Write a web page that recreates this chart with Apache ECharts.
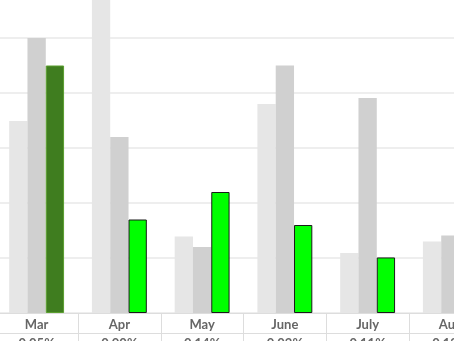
<!DOCTYPE html>
<html>
<head>
<meta charset="utf-8">
<script src="https://cdn.jsdelivr.net/npm/echarts@6/dist/echarts.min.js"></script>
<style>
html,body{margin:0;padding:0;background:#fff;}
#c{width:454px;height:341px;}
</style>
</head>
<body>
<div id="c"></div>
<script>
var categories = ['Mar', 'Apr', 'May', 'June', 'July', 'Aug'];
var pctLabels = ['0.05%', '0.00%', '0.14%', '0.02%', '0.11%', '0.12%'];
var lightSeries = [3.49, 6.3, 1.39, 3.8, 1.09, 1.30];
var midSeries = [5.0, 3.2, 1.2, 4.5, 3.91, 1.41];
var greenSeries = [4.5, 1.70, 2.2, 1.6, 1.01, null];

var greenData = greenSeries.map(function (v, i) {
  if (i === 0) {
    return { value: v, itemStyle: { color: '#3f7d1f', borderColor: '#5a9e2e', borderWidth: 1 } };
  }
  return v;
});

var chart = echarts.init(document.getElementById('c'), null, { renderer: 'canvas' });
chart.setOption({
  animation: false,
  grid: { left: -4.75, width: 496.5, top: -72, bottom: 28, containLabel: false, outerBoundsMode: 'none' },
  xAxis: [
    {
      type: 'category',
      data: categories,
      position: 'bottom',
      axisLine: { show: true, lineStyle: { color: '#dddddd', width: 1 } },
      axisTick: { show: true, length: 30, alignWithLabel: false, lineStyle: { color: '#dddddd', width: 1 } },
      axisLabel: { margin: 5, color: '#666666', fontWeight: 'bold', fontSize: 13, fontFamily: 'Lato', hideOverlap: false },
      splitLine: { show: false }
    },
    {
      type: 'category',
      data: pctLabels,
      position: 'bottom',
      offset: 20,
      axisLine: { show: true, lineStyle: { color: '#dddddd', width: 1 } },
      axisTick: { show: false },
      axisLabel: { margin: 4, color: '#666666', fontWeight: 'bold', fontSize: 13, fontFamily: 'Lato' },
      splitLine: { show: false }
    }
  ],
  yAxis: {
    type: 'value',
    min: 0,
    max: 7,
    interval: 1,
    axisLine: { show: false },
    axisTick: { show: false },
    axisLabel: { show: false },
    splitLine: { show: true, lineStyle: { color: '#e8e8e8', width: 1.5 } }
  },
  series: [
    {
      type: 'bar', data: lightSeries, barWidth: 18.3, barGap: '0%',
      itemStyle: { color: '#e6e6e6' }
    },
    {
      type: 'bar', data: midSeries, barWidth: 18.3, barGap: '0%',
      itemStyle: { color: '#d0d0d0' }
    },
    {
      type: 'bar', data: greenData, barWidth: 18.3, barGap: '0%',
      itemStyle: { color: '#00ff00', borderColor: '#1a1a1a', borderWidth: 1 }
    }
  ]
});
</script>
</body>
</html>
